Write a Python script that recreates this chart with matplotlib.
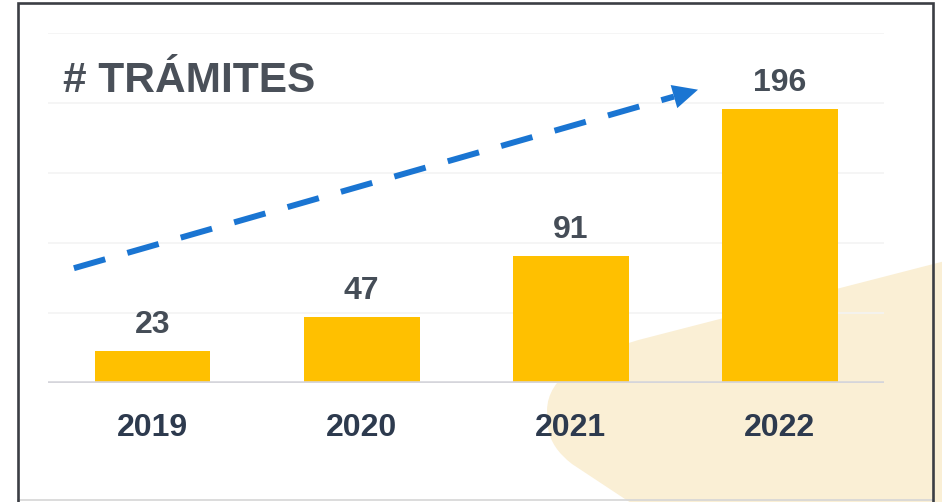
import matplotlib
matplotlib.use("Agg")
import matplotlib.pyplot as plt
import numpy as np
from matplotlib.path import Path
from matplotlib.patches import PathPatch, Polygon
from matplotlib.lines import Line2D

years = ["2019", "2020", "2021", "2022"]
tramites = [23, 47, 91, 196]
title = "# TRÁMITES"

plt.rcParams['font.family'] = ['Liberation Sans', 'DejaVu Sans']

W, H = 942, 502
fig = plt.figure(figsize=(W / 100 + 0.0001, H / 100 + 0.0001), dpi=100)
fig.patch.set_facecolor('white')

# background layer in pixel coordinates (y measured from top)
bg = fig.add_axes([0, 0, 1, 1], zorder=-10)
bg.set_xlim(0, W)
bg.set_ylim(H, 0)
bg.axis('off')
verts = [(945, 261), (650, 337), (548, 362), (547, 410),
         (548, 428), (551, 448), (572, 464), (634, 505),
         (945, 505), (945, 261)]
codes = [Path.MOVETO, Path.LINETO, Path.CURVE3, Path.CURVE3,
         Path.LINETO, Path.CURVE3, Path.CURVE3, Path.LINETO,
         Path.LINETO, Path.CLOSEPOLY]
bg.add_patch(PathPatch(Path(verts, codes), facecolor='#FAEFD5',
                       edgecolor='none', clip_on=False))

ax = fig.add_axes([48 / W, (H - 383) / H, 836 / W, 350 / H], zorder=0)
ax.set_facecolor('none')
x = np.arange(len(years))
bars = ax.bar(x, tramites, width=0.555, color='#FFC000', zorder=3)
ax.set_xlim(-0.5, len(years) - 0.5)
ax.set_ylim(0, 250)
ax.set_yticks(np.arange(0, 251, 50))
ax.yaxis.grid(True, color='#F3F3F3', lw=1.2)
ax.set_axisbelow(True)
ax.tick_params(axis='y', left=False, labelleft=False)
for s in ax.spines.values():
    s.set_visible(False)
ax.axhline(0, color='#D5D5DB', lw=2.6, zorder=4)

ax.set_xticks(x)
ax.set_xticklabels(years, fontsize=23, fontweight='bold', color='#2D3A4E')
ax.tick_params(axis='x', bottom=False, pad=18)

for xi, v in zip(x, tramites):
    ax.annotate(str(v), xy=(xi, v), xytext=(0, 13), textcoords='offset points',
                ha='center', va='baseline', fontsize=23, fontweight='bold',
                color='#454D57', zorder=5)

fig.text(63 / W, (H - 92) / H, title, fontsize=30.5, fontweight='bold',
         color='#4A5059', ha='left', va='baseline')

# dashed trend arrow (data coords)
start = np.array([-0.376, 82.0])
tip = np.array([2.61, 209.5])
fig.canvas.draw()
p0 = ax.transData.transform(start)
p1 = ax.transData.transform(tip)
d = p1 - p0
L = np.hypot(*d)
u = d / L
nrm = np.array([-u[1], u[0]])
head_len, head_w = 25, 24
base = p1 - u * head_len
ax.add_line(Line2D([p0[0], base[0]], [p0[1], base[1]], transform=None,
                   color='#1A75D2', lw=4.3, dashes=(5.45, 3.85),
                   solid_capstyle='butt', dash_capstyle='butt', zorder=6,
                   clip_on=False))
head = Polygon([p1, base + nrm * head_w / 2, base - nrm * head_w / 2],
               closed=True, facecolor='#1A75D2', edgecolor='none',
               transform=None, zorder=6, clip_on=False)
ax.add_patch(head)

# frame on an overlay layer
fr = fig.add_axes([0, 0, 1, 1], zorder=10)
fr.set_xlim(0, W)
fr.set_ylim(H, 0)
fr.axis('off')
fr.patch.set_alpha(0)
fc = '#3B3E44'
fr.plot([18, 933], [500.5, 500.5], color='#D5D5D5', lw=1.2, clip_on=False)
fr.plot([18, 18, 933, 933], [503, 3, 3, 503], color=fc, lw=1.9,
        clip_on=False, solid_joinstyle='miter')

fig.savefig('out.png', dpi=100)
